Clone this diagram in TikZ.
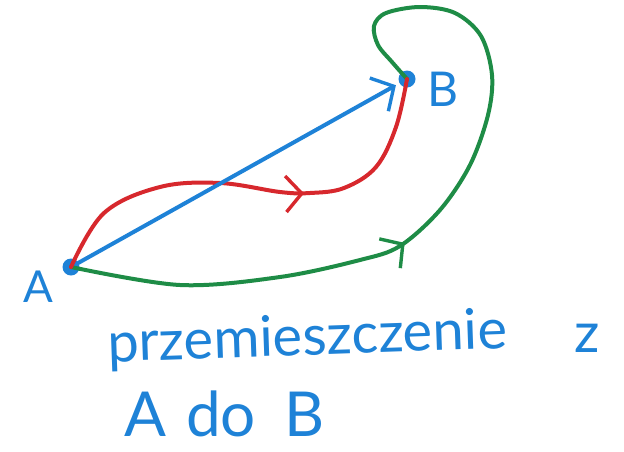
\documentclass[tikz,border=0pt]{standalone}
\usepackage{fontspec}
\setmainfont{Lato}
\usetikzlibrary{arrows.meta,decorations.markings}
\definecolor{penblue}{RGB}{30,130,215}
\definecolor{penred}{RGB}{215,40,45}
\definecolor{pengreen}{RGB}{30,140,70}
\tikzset{
  pen/.style={line width=4pt, line cap=round, line join=round},
  midarrow/.style={postaction={decorate}, decoration={markings,
      mark=at position #1 with {\arrow{Straight Barb[length=16pt,width=36pt,line width=3.4pt]}}}},
  dot/.style={circle, fill=penblue, inner sep=0pt, minimum size=17pt},
  lbl/.style={text=penblue, inner sep=0pt}
}
\begin{document}
\begin{tikzpicture}[x=1pt,y=-1pt]
\useasboundingbox (0,0) rectangle (624,451);
% points
\node[dot] (A) at (71,267) {};
\node[dot] (B) at (407,79) {};
\node[lbl, font=\fontsize{44}{44}\selectfont] (lA) at (38,287) {A};
\node[lbl, font=\fontsize{48}{48}\selectfont] (lB) at (443,89) {B};
% green path
\draw[pen, pengreen, midarrow=0.445] plot[smooth, tension=0.55] coordinates {
  (A) (180,285) (280,277) (360,260) (400,246) (440,210) (470,165) (488,115)
  (492,75) (481,36) (455,13) (420,7) (386,13) (374,26) (378,45) (392,62) (B)};
% red path
\draw[pen, penred, midarrow=0.61] plot[smooth, tension=0.6] coordinates {
  (A) (104,213) (160,187) (220,183) (280,192) (310,193) (344,188)
  (376,167) (396,127) (B)};
% blue displacement
\draw[pen, penblue, -{Straight Barb[length=17pt,width=38pt,line width=3.4pt]}, shorten >=4pt] (A) -- (B);
% text
\node[lbl, font=\fontsize{56}{56}\selectfont, rotate=2, anchor=base west] (t1) at (108,362) {przemieszczenie};
\node[lbl, font=\fontsize{56}{56}\selectfont, anchor=base west] (t2) at (574,352) {z};
\node[lbl, font=\fontsize{62}{62}\selectfont, anchor=base west] (t3) at (124,436) {A\hspace{20pt}do\hspace{28pt}B};
\end{tikzpicture}
\end{document}
